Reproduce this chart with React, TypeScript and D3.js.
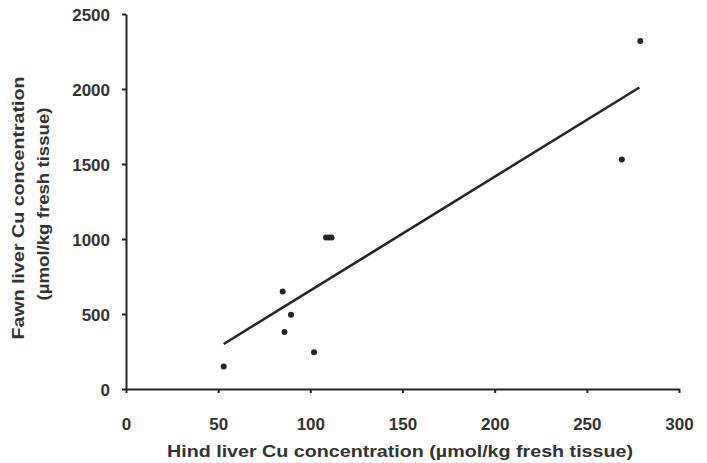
import React, { useEffect, useRef } from 'react';
import * as d3 from 'd3';

// hind liver Cu (x) vs fawn liver Cu (y), umol/kg fresh tissue
const hindCu = [53, 85, 86, 89.5, 102, 108.5, 110, 111.5, 269, 279];
const fawnCu = [150, 650, 380, 495, 245, 1010, 1010, 1010, 1530, 2320];

// fitted regression line endpoints
const fitX = [53, 278.5];
const fitY = [300, 2010];

const xTicks = [0, 50, 100, 150, 200, 250, 300];
const yTicks = [0, 500, 1000, 1500, 2000, 2500];

const xTitle = 'Hind liver Cu concentration (µmol/kg fresh tissue)';
const yTitle1 = 'Fawn liver Cu concentration';
const yTitle2 = '(µmol/kg fresh tissue)';

export default function App() {
  const ref = useRef<SVGSVGElement>(null);

  const width = 707,
    height = 463;
  const margin = { top: 14, right: 28, bottom: 74, left: 126 };

  useEffect(() => {
    const svg = d3.select(ref.current);
    svg.selectAll('*').remove();

    const ink = '#262626';
    const textInk = '#333';
    const font = '"Liberation Sans", Arial, sans-serif';

    const x = d3.scaleLinear().domain([0, 300]).range([margin.left, width - margin.right]);
    const y = d3.scaleLinear().domain([0, 2500]).range([height - margin.bottom, margin.top]);

    // y axis
    const yAxis = svg
      .append('g')
      .attr('transform', `translate(${margin.left},0)`)
      .call(
        d3.axisLeft(y).tickValues(yTicks).tickFormat(d3.format('d')).tickSize(4).tickSizeOuter(0).tickPadding(12)
      );
    yAxis.select('.domain').attr('stroke', ink).attr('stroke-width', 2);
    yAxis.selectAll('.tick line').attr('stroke', ink).attr('stroke-width', 2);
    yAxis
      .selectAll('.tick text')
      .attr('fill', textInk)
      .style('font-family', font)
      .style('font-size', '17px')
      .style('font-weight', 'bold')
      .attr('dy', '0.36em');

    // x axis
    const xAxis = svg
      .append('g')
      .attr('transform', `translate(0,${y(0)})`)
      .call(
        d3.axisBottom(x).tickValues(xTicks).tickFormat(d3.format('d')).tickSize(4).tickSizeOuter(0).tickPadding(25)
      );
    xAxis.select('.domain').attr('stroke', ink).attr('stroke-width', 2);
    xAxis.selectAll('.tick line').attr('stroke', ink).attr('stroke-width', 2);
    xAxis
      .selectAll('.tick text')
      .attr('fill', textInk)
      .style('font-family', font)
      .style('font-size', '17px')
      .style('font-weight', 'bold');

    // regression line
    svg
      .append('line')
      .attr('x1', x(fitX[0]))
      .attr('y1', y(fitY[0]))
      .attr('x2', x(fitX[1]))
      .attr('y2', y(fitY[1]))
      .attr('stroke', ink)
      .attr('stroke-width', 2.6);

    // points
    svg
      .append('g')
      .selectAll('circle')
      .data(hindCu.map((d, i) => [d, fawnCu[i]]))
      .enter()
      .append('circle')
      .attr('cx', (d) => x(d[0]))
      .attr('cy', (d) => y(d[1]))
      .attr('r', 3)
      .attr('fill', ink);

    // axis titles
    svg
      .append('text')
      .attr('x', 400)
      .attr('y', 457)
      .attr('text-anchor', 'middle')
      .attr('textLength', 466)
      .attr('lengthAdjust', 'spacingAndGlyphs')
      .style('font-family', font)
      .style('font-size', '17px')
      .style('font-weight', 'bold')
      .attr('fill', textInk)
      .text(xTitle);

    svg
      .append('text')
      .attr('transform', 'translate(24,208) rotate(-90)')
      .attr('text-anchor', 'middle')
      .attr('textLength', 263)
      .attr('lengthAdjust', 'spacingAndGlyphs')
      .style('font-family', font)
      .style('font-size', '17px')
      .style('font-weight', 'bold')
      .attr('fill', textInk)
      .text(yTitle1);

    svg
      .append('text')
      .attr('transform', 'translate(49,204) rotate(-90)')
      .attr('text-anchor', 'middle')
      .attr('textLength', 193)
      .attr('lengthAdjust', 'spacingAndGlyphs')
      .style('font-family', font)
      .style('font-size', '17px')
      .style('font-weight', 'bold')
      .attr('fill', textInk)
      .text(yTitle2);
  }, []);

  return (
    <div style={{ position: 'absolute', left: 0, top: 0 }}>
      <svg ref={ref} width={width} height={height} style={{ display: 'block', background: '#fff' }} />
    </div>
  );
}
